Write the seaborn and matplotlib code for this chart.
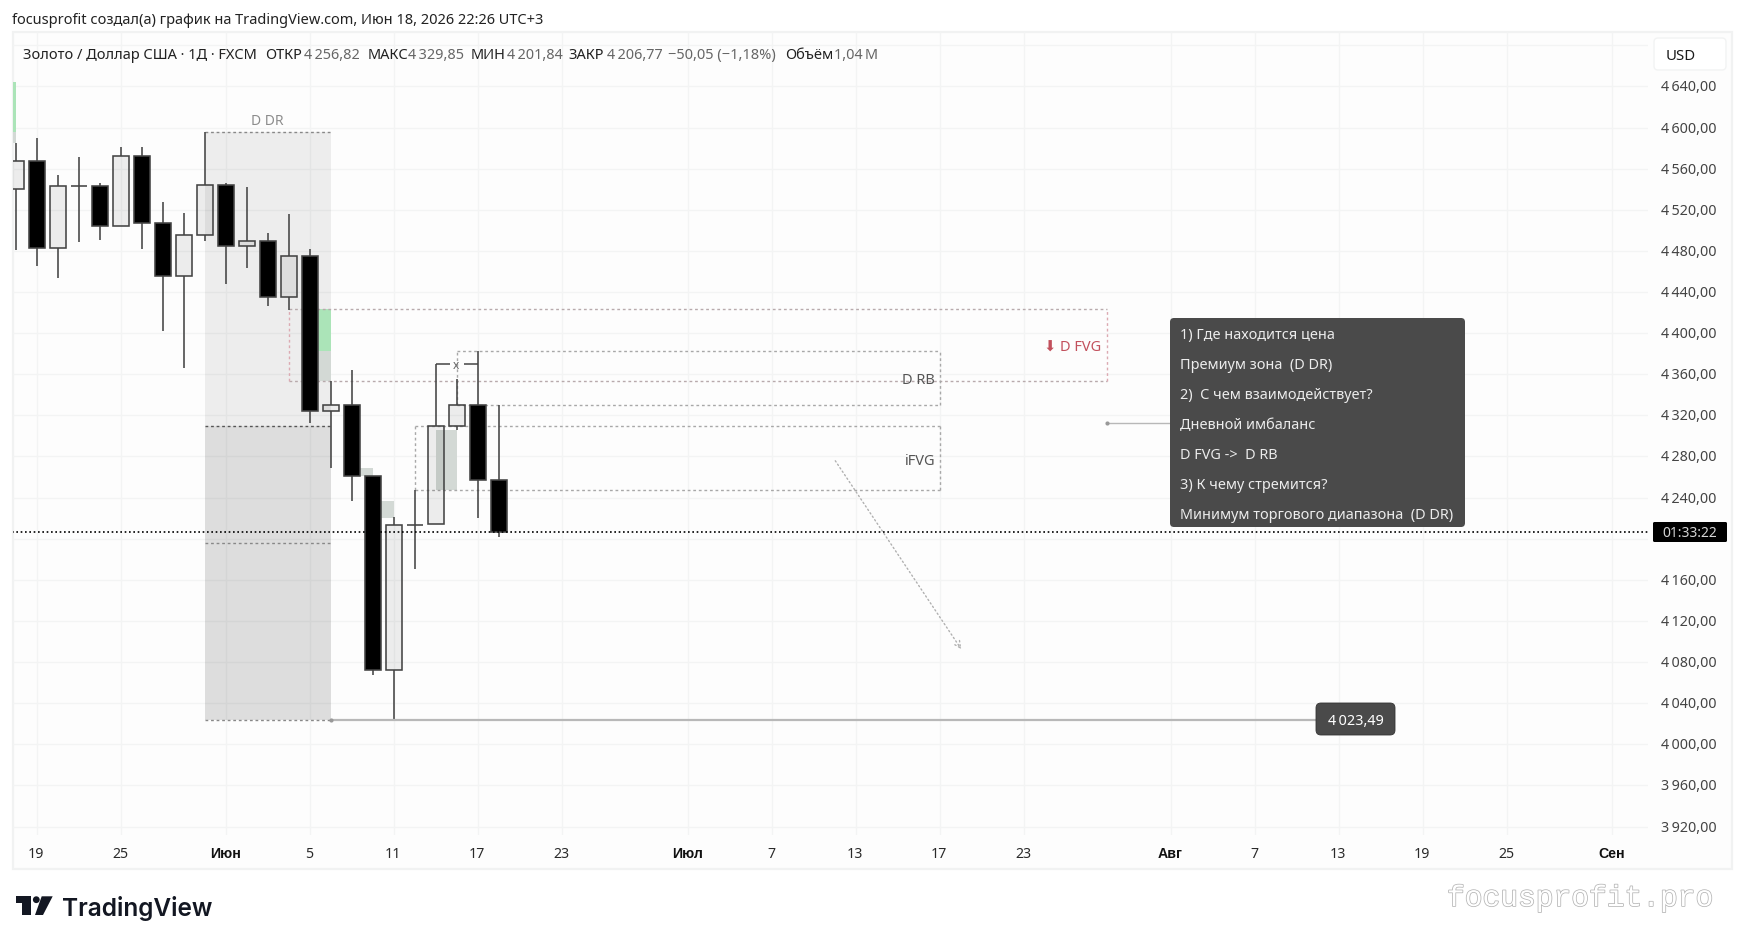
import numpy as np
import pandas as pd
import seaborn as sns
import matplotlib
matplotlib.use("Agg")
import matplotlib.pyplot as plt
from matplotlib.patches import Rectangle, FancyBboxPatch, Polygon, Circle
from matplotlib.transforms import Affine2D, ScaledTranslation
import matplotlib.patheffects as pe

# ---------- data ----------
opens  = [4539.9,4567.1,4482.5,4542.8,4542.8,4504.5,4572.0,4506.8,4455.3,4495.1,4543.8,4484.4,
          4489.3,4434.8,4474.7,4323.9,4329.8,4260.7,4072.0,4213.0,4214.0,4309.3,4330.4,4256.82]
highs  = [4584.6,4589.8,4553.8,4571.3,4545.7,4581.0,4581.0,4527.5,4516.8,4595.3,4545.7,4541.8,
          4497.1,4515.9,4481.5,4353.4,4364.1,4260.7,4221.1,4247.4,4369.6,4355.4,4382.6,4329.85]
lows   = [4481.2,4465.6,4453.9,4488.9,4490.9,4504.5,4482.1,4402.3,4366.3,4489.9,4448.1,4463.6,
          4426.7,4422.8,4312.8,4269.1,4237.0,4067.7,4023.49,4170.8,4214.0,4306.0,4219.8,4201.84]
closes = [4567.1,4482.5,4542.8,4542.8,4504.5,4572.0,4506.8,4455.3,4495.1,4543.8,4484.4,4489.3,
          4434.8,4474.7,4323.9,4329.8,4260.7,4072.0,4213.0,4213.6,4309.3,4330.4,4256.82,4206.77]

price_ticks = [3920,3960,4000,4040,4080,4120,4160,4200,4240,4280,4320,4360,4400,4440,4480,4520,4560,4600,4640,4680]
hidden_price_labels = [4200, 4680]
time_ticks  = [1,5,10,14,18,22,26,32,36,40,44,48,55,59,63,67,71,76]
time_labels = ['19','25','Июн','5','11','17','23','Июл','7','13','17','23','Авг','7','13','19','25','Сен']
month_labels = ['Июн','Июл','Авг','Сен']

dr_left, dr_right = 9, 15
dr_top, dr_mid, dr_q, dr_low = 4595.3, 4309.3, 4195.5, 4023.49
fvg_box = (13, 51.95, 4353.1, 4423.4)
rb_box = (21, 43.97, 4330.4, 4382.6)
ifvg_box = (19, 43.97, 4247.1, 4309.3)
green_patches = [(-1, 0, 4595.3, 4643.8), (14, 15, 4382.3, 4423.4)]
grey_patches = [(-1, 0, 4584.6, 4595.3), (14, 15, 4353.1, 4382.3), (16, 17, 4260.7, 4268.8),
                (17, 18, 4220.4, 4236.7), (20, 21, 4247.1, 4305.7)]
last_price = 4206.77
note_price = 4312.5
note_lines = ['1) Где находится цена', 'Премиум зона  (D DR)', '2)  С чем взаимодействует?', 'Дневной имбаланс',
              'D FVG ->  D RB', '3) К чему стремится?', 'Минимум торгового диапазона  (D DR)']
arrow_from = (39, 4275.8)
arrow_to = (45, 4092.5)
bracket_price = 4369.6
bracket_from = [20, 21.32]
bracket_to = [20.65, 22]

# ---------- page ----------
sns.set_theme(style='white')
plt.rcParams['font.family'] = ['Noto Sans', 'DejaVu Sans']
W, H = 1744, 945
fig = plt.figure(figsize=(W/100, H/100), dpi=100, facecolor='white')
px = Affine2D().scale(1, -1).translate(0, H)

fig.add_artist(Rectangle((12.7, 33.3), 1719, 836.7, transform=px, facecolor='#fdfdfd', edgecolor='#f1f2f2', lw=1.6, zorder=-5))

ax = fig.add_axes([13/W, (H-836)/H, (1648-13)/W, (836-33)/H])
ax.patch.set_alpha(0)
for s in ax.spines.values():
    s.set_visible(False)
ax.grid(True, color='#f3f4f4', lw=1)
ax.set_axisbelow(True)

GREY = '#a8a8a8'
PINK = '#dcaab2'
DOT = (0, (2, 2))

# ---------- zones ----------
ax.add_patch(Rectangle((dr_left, dr_mid), dr_right-dr_left, dr_top-dr_mid, fc='black', alpha=.062, lw=0, zorder=1))
ax.add_patch(Rectangle((dr_left, dr_low), dr_right-dr_left, dr_mid-dr_low, fc='black', alpha=.125, lw=0, zorder=1))
for a, b, lo, hi in green_patches:
    ax.add_patch(Rectangle((a, lo), b-a, hi-lo, fc='#abe4b8', lw=0, zorder=1.5))
for a, b, lo, hi in grey_patches:
    ax.add_patch(Rectangle((a, lo), b-a, hi-lo, fc='#d3d9d5', lw=0, zorder=1.5))

ax.hlines([dr_top, dr_q, dr_low], dr_left, dr_right, colors='#888888', lw=1, linestyles=[DOT], zorder=2)
ax.hlines([dr_mid], dr_left, dr_right, colors='#555555', lw=1, linestyles=[DOT], zorder=2)

def box(b, side=GREY, edge=GREY):
    a, c, lo, hi = b
    ax.hlines([lo, hi], a, c, colors=edge, lw=1, linestyles=[DOT], zorder=2)
    ax.vlines([a, c], lo, hi, colors=side, lw=1, linestyles=[DOT], zorder=2)
box(fvg_box, PINK, '#b8aaac')
box(rb_box)
box(ifvg_box)

# ---------- candles ----------
df = pd.DataFrame({'i': np.arange(len(opens)), 'o': opens, 'h': highs, 'l': lows, 'c': closes})
df['body'] = (df.c - df.o).abs()
df['base'] = df[['o', 'c']].min(axis=1)
df['roof'] = df[['o', 'c']].max(axis=1)
ax.vlines(df.i, df.roof, df.h, colors='#444444', lw=1.15, zorder=3)
ax.vlines(df.i, df.l, df.base, colors='#444444', lw=1.15, zorder=3)
up, down = df[df.c >= df.o], df[df.c < df.o]
sns.barplot(data=up, x='i', y='body', bottom=up.base.values, native_scale=True, orient='x', color='#eeeeee',
            saturation=1, width=.76, errorbar=None, edgecolor='#444444', linewidth=1.15, zorder=4, ax=ax)
for bar in ax.containers[-1]:
    bar.set_facecolor((0, 0, 0, .065))
sns.barplot(data=down, x='i', y='body', bottom=down.base.values, native_scale=True, orient='x', color='#000000',
            saturation=1, width=.76, errorbar=None, edgecolor='#444444', linewidth=1.15, zorder=4, ax=ax)

# ---------- lines ----------
sns.lineplot(x=[-1, 80], y=[last_price, last_price], color='black', lw=1.2, linestyle=(0, (1, 1.6)),
             errorbar=None, zorder=5, ax=ax)
sns.lineplot(x=[dr_right, 62], y=[dr_low, dr_low], color='#b8b8b8', lw=1.6, errorbar=None, zorder=3, ax=ax)
sns.lineplot(x=[fvg_box[1], 55], y=[note_price, note_price], color='#b8b8b8', lw=1, errorbar=None, zorder=3, ax=ax)
sns.scatterplot(x=[dr_right, fvg_box[1]], y=[dr_low, note_price], color='#999999', s=9, linewidth=0, zorder=6, ax=ax)
ax.hlines([bracket_price, bracket_price], bracket_from, bracket_to, colors='#444444', lw=1.1, zorder=3)
ax.annotate('', xy=arrow_to, xytext=arrow_from,
            arrowprops=dict(arrowstyle='->', color='#b0b0b0', lw=1, linestyle=(0, (1, 2)), shrinkA=0, shrinkB=0), zorder=3)

# ---------- axes ----------
ax.set_xlim(-0.157, 77.7)
ax.set_ylim(4000 + (745.3-836)/1.028, 4000 + (745.3-33)/1.028)
ax.set_xticks(time_ticks)
ax.set_xticklabels(time_labels)
ax.set_yticks(price_ticks)
ax.set_yticklabels([f'{p//1000}\u2009{p%1000:03d},00' if p not in hidden_price_labels else '' for p in price_ticks])
ax.set_xlabel('')
ax.set_ylabel('')
ax.tick_params(axis='y', left=False, right=False, labelleft=False, labelright=True, pad=3.6, labelsize=10.3, labelcolor='#444444')
ax.tick_params(axis='x', bottom=False, pad=2.2, labelsize=10.2, labelcolor='#2a2a2a')
for t in ax.get_xticklabels():
    if t.get_text() in month_labels:
        t.set_fontfamily('Liberation Sans')
        t.set_fontweight('bold')
        t.set_color('#111111')
up_shift = ScaledTranslation(0, 1.5/100, fig.dpi_scale_trans)
for tick in ax.yaxis.get_major_ticks():
    tick.label2.set_transform(tick.label2.get_transform() + up_shift)
left_shift = ScaledTranslation(-1/100, 0, fig.dpi_scale_trans)
for tick in ax.xaxis.get_major_ticks():
    tick.label1.set_transform(tick.label1.get_transform() + left_shift)

# ---------- texts ----------
def T(x, y, s, size=10, color='#222222', ha='left', va='center', **kw):
    return fig.text(x, y + 2, s, transform=px, fontsize=size, color=color, ha=ha, va=va, zorder=20, **kw)

T(12.5, 19, 'focusprofit создал(а) график на TradingView.com, Июн 18, 2026 22:26 UTC+3', 10.5, '#222222')
T(23, 54, 'Золото / Доллар США · 1Д · FXCM', 10.5, '#222222')
for x, lab, vx, val in [(265, 'ОТКР', 360, '4\u2009256,82'), (368, 'МАКС', 464.4, '4\u2009329,85'),
                        (471, 'МИН', 562.4, '4\u2009201,84'), (568, 'ЗАКР', 662.6, '4\u2009206,77'),
                        (785, 'Объём', 878, '1,04\u2009M')]:
    T(x, 54, lab, 10.5, '#222222')
    T(vx, 54, val, 10.4, '#666666', ha='right')
T(668.5, 54, '−50,05 (−1,18%)', 10.5, '#666666')

T(267, 120, 'D DR', 10, '#8c8c8c', ha='center')
T(935, 379, 'D RB', 10.5, '#555555', ha='right')
T(935, 460, 'iFVG', 10.5, '#555555', ha='right')
T(1101.7, 346, '⬇ D FVG', 10.5, '#c2505c', ha='right')
T(455.7, 364, 'x', 8.5, '#666666', ha='center')

# note box
fig.add_artist(FancyBboxPatch((1174, 323), 287, 201, boxstyle='round,pad=4,rounding_size=4', transform=px,
                              fc='#4a4a4a', ec='none', zorder=15))
for y, line in zip([334, 364, 394, 424, 454, 484, 514], note_lines):
    T(1180.5, y, line, 10.4, '#ececec')

# min label
fig.add_artist(FancyBboxPatch((1320, 708), 71, 24, boxstyle='round,pad=4,rounding_size=5', transform=px,
                              fc='#4a4a4a', ec='#333333', lw=.6, zorder=15))
T(1355.5, 720, '4\u2009023,49', 10.4, 'white', ha='center')

# countdown
fig.add_artist(FancyBboxPatch((1653, 523), 74, 20, boxstyle='round,pad=0,rounding_size=1.5', transform=px,
                              fc='black', ec='none', zorder=15))
T(1690, 532, '01:33:22', 10, '#d5d5d5', ha='center')

# USD button
fig.add_artist(FancyBboxPatch((1657, 42), 66, 26, boxstyle='round,pad=3,rounding_size=4', transform=px,
                              fc='white', ec='#f2f3f3', lw=1, zorder=15))
T(1666, 55, 'USD', 10.8, '#1b1b1b')

# logo
LOGO = '#131722'
fig.add_artist(Polygon([(15.7, 897.3), (30.7, 897.3), (30.7, 916), (22.3, 916), (22.3, 904.3), (15.7, 904.3)], transform=px, fc=LOGO, ec='none'))
fig.add_artist(Circle((36.3, 900.7), 3.4, transform=px, fc=LOGO, ec='none'))
fig.add_artist(Polygon([(41.7, 897.3), (52.7, 897.3), (43, 916), (35, 916)], transform=px, fc=LOGO, ec='none'))
T(62, 906.5, 'TradingView', 17.6, LOGO, family='Inter', fontweight='semibold')

# watermark
wm = T(1447, 897, 'focusprofit.pro', 21.3, 'white', family='Liberation Mono')
wm.set_path_effects([pe.withStroke(linewidth=1.1, foreground='#b4b4b4')])

fig.savefig('out.png', dpi=100, facecolor='white')
